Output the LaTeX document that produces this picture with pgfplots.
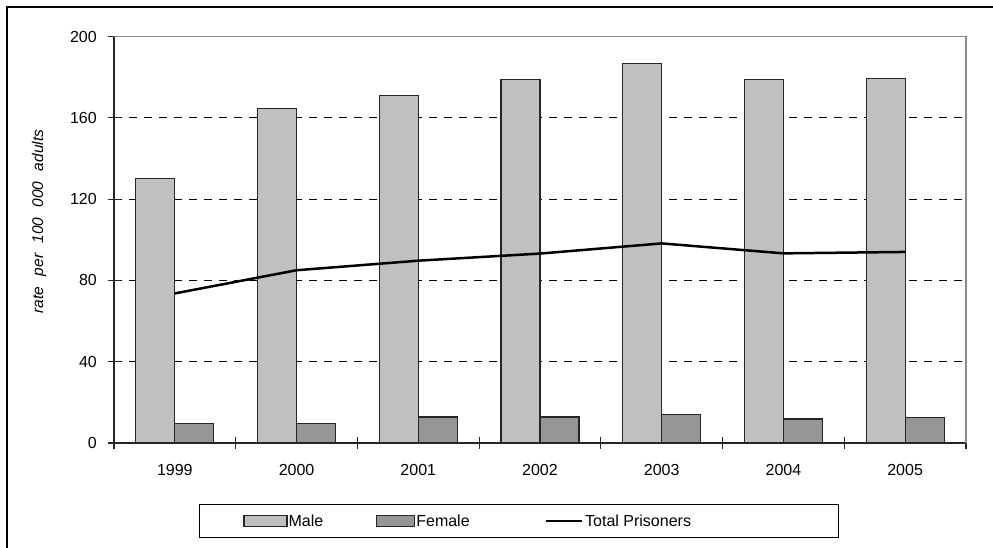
\documentclass[border=0pt]{standalone}
\usepackage{pgfplots}
\pgfplotsset{compat=1.18}
\usepackage{fontspec}
\setmainfont{Liberation Sans}
\definecolor{malefill}{RGB}{192,192,192}
\definecolor{femalefill}{RGB}{150,150,150}
\definecolor{framegray}{RGB}{140,140,140}
\newcommand{\chartfont}{\fontsize{16}{19}\selectfont}
\begin{document}
\begin{tikzpicture}[x=1pt,y=1pt]
% page and chart frame (only left and top edges show)
\path[use as bounding box] (-114,-105) rectangle (879,443);
\draw[black, line width=1.2pt] (-107,-106) -- (-107,436) -- (880,436);
\begin{axis}[
    at={(0,0)}, anchor=south west,
    scale only axis,
    width=852pt, height=406.5pt,
    font=\chartfont,
    /pgf/number format/assume math mode=true,
    xmin=-0.5, xmax=6.5,
    ymin=0, ymax=200,
    xtick={-0.5,0.5,...,6.5},
    x tick label as interval=true,
    xticklabels={1999,2000,2001,2002,2003,2004,2005},
    ytick={0,40,...,200},
    extra y ticks={40,80,120,160},
    extra y tick labels={},
    extra y tick style={grid=major},
    grid style={black, line width=0.9pt, dash pattern=on 8pt off 7pt},
    axis x line*=bottom, axis y line*=left,
    axis line style={black!85, line width=1.3pt},
    tick style={black!85, line width=1.1pt},
    tick align=center,
    major tick length=12pt,
    tick label style={font=\chartfont},
    yticklabel style={inner sep=0pt, xshift=-11pt},
    xticklabel style={inner sep=0pt, yshift=-15pt},
    ylabel={\fontsize{15.5}{18}\selectfont\itshape rate\hspace{6pt} per\hspace{6pt} 100\hspace{6pt} 000\hspace{6pt} adults},
    every axis y label/.style={at={(axis description cs:-0.088,0.545)}, rotate=90, anchor=center},
    legend columns=3,
    legend style={at={(axis description cs:0.0998,-0.150)}, anchor=north west,
        font=\chartfont,
        draw=black, line width=0.9pt, inner xsep=44pt, inner ysep=8pt,
        nodes={inner xsep=0pt}},
]
\addplot[ybar, bar width=39pt, bar shift=-19.5pt, fill=malefill, draw=black!85, line width=1.1pt,
    legend image code/.code={\draw[fill=malefill, draw=black!85, line width=1.1pt] (0pt,-5.5pt) rectangle (43pt,5.5pt); \path (44pt,0pt);}]
    coordinates {(0,130.3) (1,164.6) (2,171.0) (3,178.7) (4,186.5) (5,178.7) (6,179.3)};
\addplot[ybar, bar width=39pt, bar shift=19.5pt, fill=femalefill, draw=black!85, line width=1.1pt,
    legend image code/.code={\draw[fill=femalefill, draw=black!85, line width=1.1pt] (0pt,-5.5pt) rectangle (38pt,5.5pt); \path (39pt,0pt);}]
    coordinates {(0,9.8) (1,9.8) (2,12.8) (3,12.8) (4,14.2) (5,11.8) (6,12.6)};
\addplot[sharp plot, black, line width=2.5pt, no markers,
    legend image code/.code={\draw[black, line width=2.5pt] (0pt,0pt) -- (36pt,0pt); \path (38pt,0pt);}]
    coordinates {(0,73.6) (1,85.0) (2,89.7) (3,93.2) (4,98.2) (5,93.3) (6,94.0)};
\legend{Male\hspace*{53pt}, Female\hspace*{75pt}, Total Prisoners\hspace*{103pt}}
\end{axis}
\draw[framegray, line width=1.1pt] (0,406.5) -- (852,406.5) -- (852,0);
\end{tikzpicture}
\end{document}
